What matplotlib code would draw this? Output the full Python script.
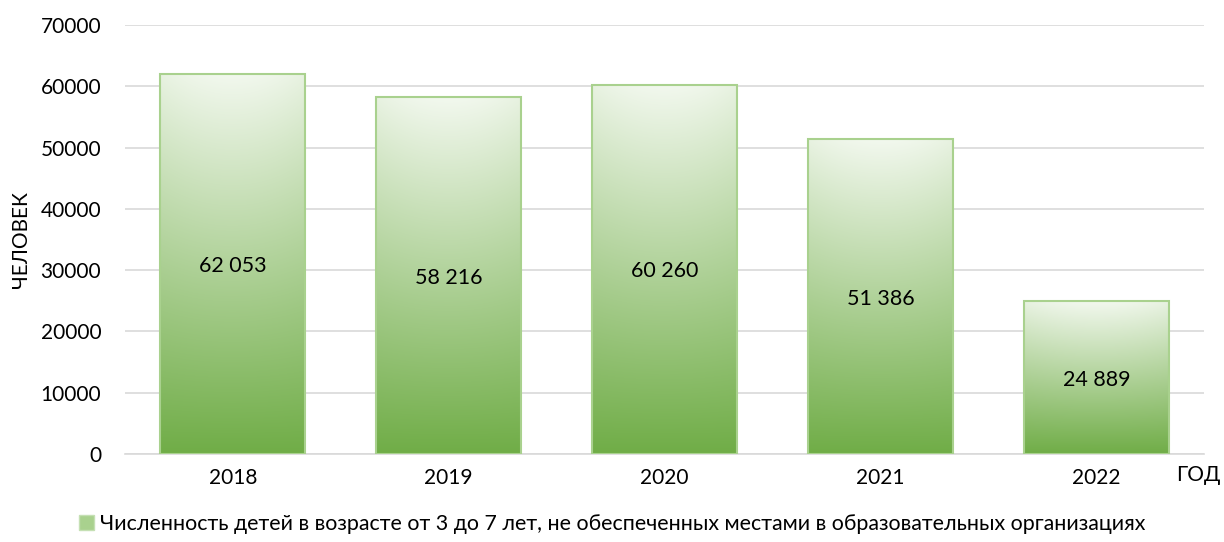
import matplotlib
matplotlib.use("Agg")
import matplotlib.pyplot as plt
import numpy as np
from matplotlib.colors import to_rgb
from matplotlib.patches import Patch

years = ["2018", "2019", "2020", "2021", "2022"]
values = [62053, 58216, 60260, 51386, 24889]
value_labels = ["62 053", "58 216", "60 260", "51 386", "24 889"]
y_ticks = [0, 10000, 20000, 30000, 40000, 50000, 60000, 70000]
legend_label = "Численность детей в возрасте от 3 до 7 лет, не обеспеченных местами в образовательных организациях"

plt.rcParams['font.family'] = ['Lato', 'DejaVu Sans']

fig = plt.figure(figsize=(12.24, 5.42), dpi=100)
ax = fig.add_axes([0.102, 0.1624, 0.882, 0.7915])

x = np.arange(len(years))
width = 0.67
bars = ax.bar(x, values, width=width, facecolor='none', edgecolor='#A9D18E', linewidth=1.5, zorder=3)

bottom_c = np.array(to_rgb('#70AD47'))
top_c = np.array(to_rgb('#F2F8EE'))
ny, nx = 200, 60
yy = np.linspace(0, 1, ny)[:, None]
xx = np.linspace(-1, 1, nx)[None, :]
for rect, v in zip(bars, values):
    t = yy * np.ones_like(xx)
    t = t - 0.08 * (xx ** 2) * yy
    t = np.clip(t, 0, 1)
    img = bottom_c[None, None, :] * (1 - t[..., None]) + top_c[None, None, :] * t[..., None]
    x0 = rect.get_x()
    im = ax.imshow(img, extent=[x0, x0 + rect.get_width(), 0, v], origin='lower',
                   aspect='auto', zorder=2, interpolation='bilinear')
    im.set_clip_path(rect)

for xi, v, lab in zip(x, values, value_labels):
    ax.text(xi, v / 2, lab, ha='center', va='center_baseline', fontsize=15.5, color='black', zorder=4)

ax.set_xlim(-0.5, len(years) - 0.5)
ax.set_ylim(0, 70000)
ax.set_yticks(y_ticks)
ax.set_yticklabels([str(t) for t in y_ticks], fontsize=15)
ax.set_xticks(x)
ax.set_xticklabels(years, fontsize=15)
ax.tick_params(axis='x', length=0, pad=10)
ax.tick_params(axis='y', length=0, pad=17)
ax.yaxis.grid(True, color='#D9D9D9', linewidth=1.2, zorder=0)
ax.set_axisbelow(True)
for s in ['top', 'right', 'left']:
    ax.spines[s].set_visible(False)
ax.spines['bottom'].set_color('#D9D9D9')
ax.spines['bottom'].set_linewidth(1.2)

ax.set_ylabel("ЧЕЛОВЕК", fontsize=15, labelpad=7)
fig.text(0.961, 0.124, "ГОД", fontsize=15, ha='left', va='center')

handle = Patch(facecolor='#A9D18E', edgecolor='#C5E0B4', linewidth=1)
fig.legend([handle], [legend_label], loc='center', bbox_to_anchor=(0.5, 0.034),
           frameon=False, fontsize=15.4, handlelength=0.7, handleheight=0.7, handletextpad=0.3)

fig.savefig("out.png", dpi=100)
